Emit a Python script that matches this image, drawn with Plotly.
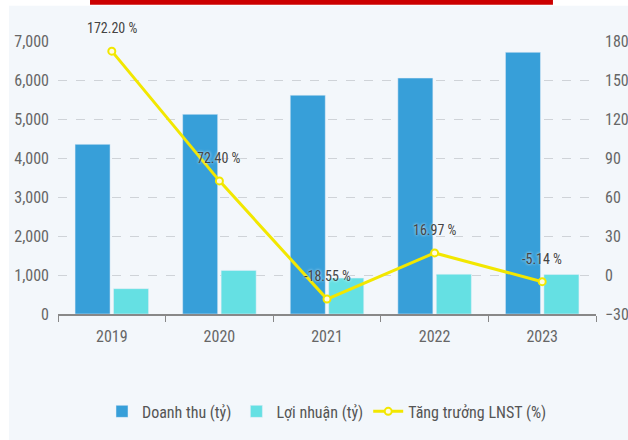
import plotly.graph_objects as go

years = ["2019", "2020", "2021", "2022", "2023"]
doanh_thu = [4350, 5120, 5610, 6050, 6710]
loi_nhuan = [650, 1118, 921, 1020, 1012]
tang_truong = [172.20, 72.40, -18.55, 16.97, -5.14]
growth_labels = ["172.20 %", "72.40 %", "-18.55 %", "16.97 %", "-5.14 %"]
left_ticks = [0, 1000, 2000, 3000, 4000, 5000, 6000, 7000]
right_ticks = [-30, 0, 30, 60, 90, 120, 150, 180]

FONT = "Liberation Sans Narrow, Roboto Condensed, Roboto, sans-serif"
BG = "#f3f7fb"

fig = go.Figure()
fig.add_trace(go.Bar(x=years, y=doanh_thu, name="Doanh thu (tỷ)",
                     marker=dict(color="#379fd9")))
fig.add_trace(go.Bar(x=years, y=loi_nhuan, name="Lợi nhuận (tỷ)",
                     marker=dict(color="#65e0e3")))
fig.add_trace(go.Scatter(x=years, y=tang_truong, name="Tăng trưởng LNST (%)",
                         yaxis="y2", mode="lines+markers",
                         line=dict(color="#f2e700", width=3),
                         marker=dict(symbol="circle", size=7, color="#fffbe0",
                                     line=dict(color="#f2e700", width=2))))

for i, (v, t) in enumerate(zip(tang_truong, growth_labels)):
    fig.add_annotation(x=i, y=v, xref="x", yref="y2", text=t, showarrow=False,
                       yshift=23, font=dict(family=FONT, size=14, color="#444",
                                            shadow="0px 0px 3px white"))

fig.update_layout(
    width=628, height=440,
    margin=dict(l=58, r=32, t=41, b=116),
    paper_bgcolor=BG, plot_bgcolor=BG,
    barmode="group", bargap=0.285, bargroupgap=0.09,
    font=dict(family=FONT, size=15, color="#666"),
    xaxis=dict(type="category", range=[-0.5, len(years) - 0.5], tickson="boundaries",
               ticks="outside", ticklen=6, tickcolor="#888", showline=True,
               linecolor="#888", linewidth=1.5, showgrid=False, automargin=False,
               ticklabelstandoff=7, tickfont=dict(size=16, color="#666")),
    yaxis=dict(range=[0, 7000], tickvals=left_ticks, tickformat=",",
               showgrid=True, gridcolor="#cfd3d8", griddash="dash", gridwidth=1,
               zeroline=False, showline=False, ticks="", ticklabelstandoff=8,
               automargin=False, tickfont=dict(size=16, color="#666")),
    yaxis2=dict(range=[-30, 180], tickvals=right_ticks, overlaying="y", side="right",
                showgrid=False, zeroline=False, showline=False, ticks="",
                ticklabelstandoff=8, automargin=False,
                tickfont=dict(size=16, color="#666")),
    legend=dict(orientation="h", x=0.5, xanchor="center", y=-0.357, yanchor="middle",
                font=dict(family=FONT, size=16, color="#555"), bgcolor="rgba(0,0,0,0)"),
    showlegend=True,
    shapes=[
        dict(type="rect", xref="paper", yref="paper", x0=-0.12, x1=-0.0911,
             y0=-0.5, y1=1.2, fillcolor="white", line=dict(width=0), layer="below"),
        dict(type="rect", xref="paper", yref="paper", x0=-0.12, x1=1.1,
             y0=1.1295, y1=1.2, fillcolor="white", line=dict(width=0), layer="below"),
        dict(type="rect", xref="paper", yref="paper", x0=0.0595, x1=0.920,
             y0=1.1330, y1=1.2, fillcolor="#cc0000", line=dict(width=0), layer="above"),
    ],
)

fig.write_html("out.html", config={"displayModeBar": False},
               post_script="document.body.style.margin='0px';"
                           "document.body.style.overflow='hidden';")
